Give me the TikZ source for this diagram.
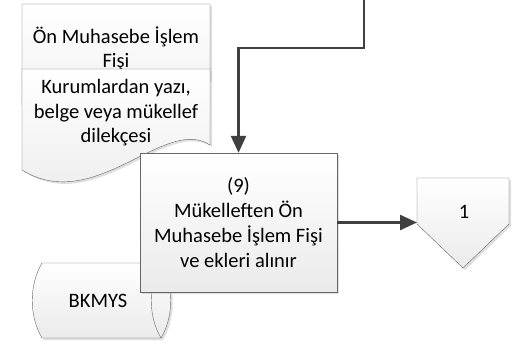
\documentclass[tikz,border=0pt]{standalone}
\usepackage{fontspec}
\setmainfont{Carlito}
\usetikzlibrary{arrows.meta,shadows}

\begin{document}
\begin{tikzpicture}[x=1pt,y=-1pt,
chartbox/.style={
% The shape:
draw=black!60,
top color=white,
bottom color=black!8,
drop shadow={shadow xshift=2pt,shadow yshift=-2pt,fill=black!25,opacity=.5}
},
chartext/.style={
font=\fontsize{20.5}{24.5}\selectfont,
align=center,
inner sep=0pt
},
process/.style={
chartbox,
rectangle,
minimum width=197pt,
minimum height=139pt,
chartext
},
conn/.style={
line width=2.4pt,
draw=black!75,
-{Triangle[length=17pt,width=15pt]}
}
]
\useasboundingbox (0,0) rectangle (529,341);
% Documents:
\path[chartbox] (22,4) -- (210,4) -- (210,80)
  .. controls (165,50) and (95,150) .. (22,105) -- cycle;
\node (fisi) [chartext] at (116,49) {Ön Muhasebe İşlem\\Fişi};
\path[chartbox] (22,69) -- (210,69) -- (210,145)
  .. controls (165,115) and (95,215) .. (22,170) -- cycle;
\node (yazi) [chartext] at (116,113) {Kurumlardan yazı,\\belge veya mükellef\\dilekçesi};
% Storage:
\path[chartbox] (42,263) -- (161,263)
  .. controls (174,285) and (174,316) .. (161,338) -- (42,338)
  .. controls (29,316) and (29,285) .. (42,263) -- cycle;
\draw[black!60] (161,263) .. controls (148,285) and (148,316) .. (161,338);
\node (bkmys) [chartext] at (98,301) {BKMYS};
% Process:
\node (alinir) [process,font=\fontsize{20.5}{25}\selectfont] at (238.5,222.5) {(9)\\Mükelleften Ön\\Muhasebe İşlem Fişi\\ve ekleri alınır};
% Off-page:
\path[chartbox] (417,178) -- (509,178) -- (509,224) -- (463,268) -- (417,224) -- cycle;
\node (bir) [chartext] at (464,212) {1};
\coordinate (sayfagir) at (417,222.5);
\coordinate (ustgiris) at (364,0);
\draw[conn] (ustgiris) -- ++(0,48) -| (alinir.north);
\draw[conn] (alinir.east) -- (sayfagir);
\end{tikzpicture}
\end{document}
